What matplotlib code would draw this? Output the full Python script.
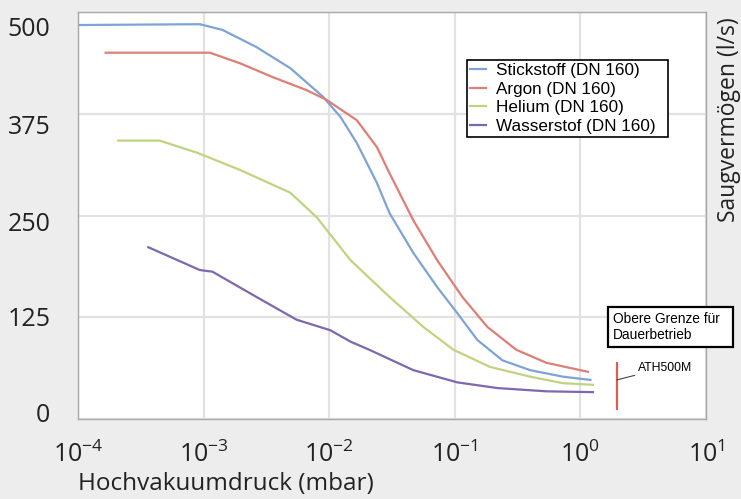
import numpy as np
import matplotlib
matplotlib.use("Agg")
import matplotlib.pyplot as plt
from matplotlib.ticker import LogLocator, LogFormatterMathtext, NullLocator
from matplotlib.transforms import ScaledTranslation

# log10(pressure in mbar) and pumping speed in l/s
n2_logp = [-4.0, -3.03, -2.85, -2.58, -2.31, -2.05, -1.91, -1.78, -1.62, -1.52, -1.33, -1.14, -0.98, -0.82, -0.62, -0.40, -0.14, 0.08]
n2_speed = [484, 485, 478, 457, 431, 396, 371, 339, 290, 253, 204, 162, 130, 97, 72, 60, 52, 48]

ar_logp = [-3.78, -2.95, -2.71, -2.45, -2.18, -2.02, -1.78, -1.62, -1.52, -1.33, -1.14, -0.94, -0.74, -0.51, -0.27, 0.06]
ar_speed = [450, 450, 437, 420, 404, 392, 367, 334, 302, 244, 195, 150, 113, 85, 69, 58]

he_logp = [-3.68, -3.35, -3.05, -2.71, -2.31, -2.10, -1.83, -1.52, -1.25, -1.01, -0.72, -0.40, -0.14, 0.10]
he_speed = [342, 342, 327, 306, 278, 248, 195, 150, 113, 85, 64, 52, 44, 42]

h2_logp = [-3.44, -3.03, -2.93, -2.58, -2.26, -1.99, -1.83, -1.68, -1.33, -0.98, -0.66, -0.27, 0.10]
h2_speed = [211, 183, 181, 150, 122, 109, 95, 85, 60, 45, 38, 34, 33]

labels = ["Stickstoff (DN 160)", "Argon (DN 160)", "Helium (DN 160)", "Wasserstof (DN 160)"]
colors = ["#7ea3d6", "#dc7f74", "#bfd47f", "#7d68ad"]

yticks = [0, 125, 250, 375, 500]
# the y labels in the picture sit a bit off their gridlines (pixels, + = down)
ylabel_shift = [-7, -1, 6, 11, 14]

# ATH500M marker: pressure and speed range of the red bar
ath_p = 1.95
ath_speed = [11, 70]

plt.rcParams['font.family'] = ['Open Sans', 'DejaVu Sans']

fig = plt.figure(figsize=(7.41, 4.99), dpi=100, facecolor="#ecedec")
ax = fig.add_axes([78/741, 1 - 419/499, 628/741, 407/499])
ax.set_facecolor("white")

series = [(n2_logp, n2_speed), (ar_logp, ar_speed), (he_logp, he_speed), (h2_logp, h2_speed)]
for (lp, sp), lab, c in zip(series, labels, colors):
    ax.plot(10 ** np.array(lp), sp, color=c, lw=1.6, label=lab)

ax.set_xscale("log")
ax.set_xlim(1e-4, 1e1)
ax.set_ylim(0, 500)
ax.xaxis.set_major_locator(LogLocator(base=10, numticks=10))
ax.xaxis.set_major_formatter(LogFormatterMathtext())
ax.xaxis.set_minor_locator(NullLocator())
ax.set_yticks(yticks)
ax.grid(True, color="#e2e2e2", lw=1.6)
ax.set_axisbelow(True)
ax.tick_params(length=0, labelsize=18, colors="#222222")
ax.tick_params(axis="x", pad=16)
ax.tick_params(axis="y", pad=20)
for s in ax.spines.values():
    s.set_color("#a8a8a8")
    s.set_linewidth(1)

fig.canvas.draw()
xl = ax.get_xticklabels()
xl[0].set_horizontalalignment("left")
for lab, d in zip(ax.get_yticklabels(), ylabel_shift):
    lab.set_transform(lab.get_transform() + ScaledTranslation(0, -d / 100, fig.dpi_scale_trans))

ax.set_xlabel("Hochvakuumdruck (mbar)", fontsize=17.5, loc="left", labelpad=3, color="#222222")
fig.text(729/741, 1 - 120/499, "Saugvermögen (l/s)", rotation=90, fontsize=16.5,
         ha="center", va="center", color="#222222")

leg = ax.legend(loc="upper left", bbox_to_anchor=(0.619, 0.698, 0.32, 0.184), mode="expand",
                borderaxespad=0, fancybox=False, edgecolor="black", framealpha=1,
                prop={'family': 'Liberation Sans', 'size': 12.3}, labelspacing=0.2,
                handlelength=0.9, handletextpad=0.6, borderpad=0.2)
leg.get_frame().set_linewidth(1.2)

# ATH500M operating limit
ax.vlines(ath_p, ath_speed[0], ath_speed[1], color="#d9604f", lw=1.6)
ax.annotate("ATH500M", xy=(ath_p, 48), xytext=(2.85, 63), fontsize=8.8,
            family="Liberation Sans", va="center", ha="left",
            arrowprops=dict(arrowstyle="-", color="#444444", lw=0.8, shrinkA=0, shrinkB=0))
fig.text(613/741, 1 - 312/499, "Obere Grenze für  \nDauerbetrieb", fontsize=9.9,
         family="Liberation Sans", ha="left", va="top", linespacing=1.15,
         bbox=dict(boxstyle="square,pad=0.4", fc="white", ec="black", lw=1.6))

fig.savefig("out.png", dpi=100, facecolor=fig.get_facecolor())
